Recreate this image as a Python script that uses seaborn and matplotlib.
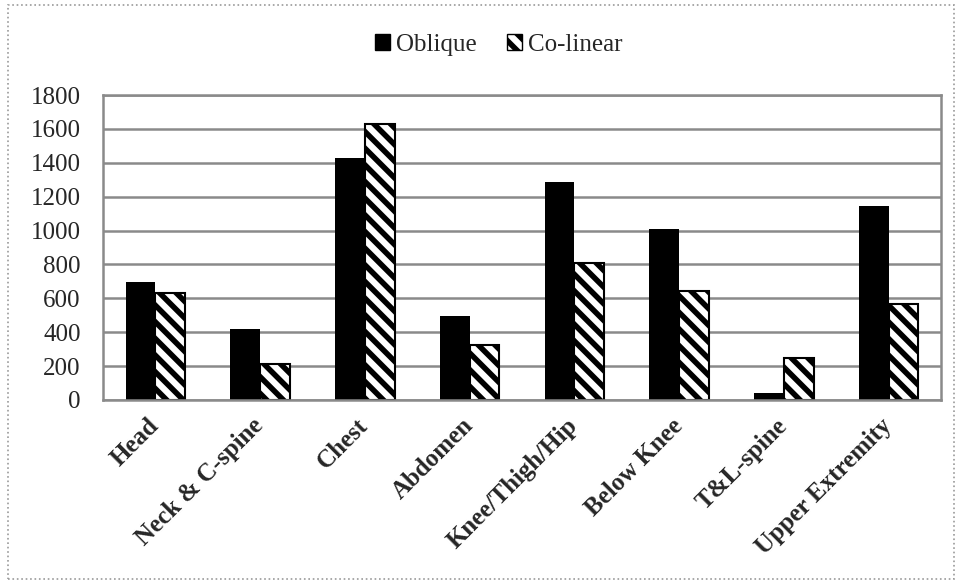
import matplotlib
matplotlib.use("Agg")
import matplotlib.pyplot as plt
import matplotlib.patches as mpatches
import seaborn as sns
import pandas as pd
import numpy as np

categories = ["Head", "Neck & C-spine", "Chest", "Abdomen", "Knee/Thigh/Hip",
              "Below Knee", "T&L-spine", "Upper Extremity"]
oblique = [698, 420, 1428, 495, 1285, 1010, 40, 1143]
colinear = [630, 215, 1630, 325, 810, 645, 245, 565]
series = ["Oblique", "Co-linear"]
yticks = [0, 200, 400, 600, 800, 1000, 1200, 1400, 1600, 1800]

df = pd.DataFrame({
    "Region": categories * 2,
    "Count": oblique + colinear,
    "Type": [series[0]] * len(categories) + [series[1]] * len(categories),
})

sns.set_theme(style="white")
plt.rcParams["font.family"] = ["Liberation Serif", "DejaVu Serif"]
plt.rcParams["hatch.linewidth"] = 4.0

fig = plt.figure(figsize=(9.59, 5.82), dpi=100)
ax = fig.add_axes([103 / 959, 1 - 400 / 582, (941 - 103) / 959, (400 - 95) / 582])

sns.barplot(data=df, x="Region", y="Count", hue="Type", palette=["black", "white"],
            width=0.57, saturation=1, ax=ax, legend=False, linewidth=0)

for bar in ax.containers[1]:
    bar.set_hatch("\\\\")
    bar.set_edgecolor("black")
    bar.set_linewidth(1.5)

grid_c = "#8a8a8a"
ax.set_ylim(0, 1800)
ax.set_xlim(-0.5, len(categories) - 0.5)
ax.set_yticks(yticks)
ax.set_yticklabels([str(v) for v in yticks], fontsize=18)
ax.yaxis.grid(True, color=grid_c, linewidth=1.8, zorder=0)
ax.set_axisbelow(True)
ax.set_xlabel("")
ax.set_ylabel("")

ax.set_xticks(range(len(categories)))
ax.set_xticklabels(categories, rotation=45, ha="right", va="center", rotation_mode="anchor",
                   fontsize=18, fontweight="bold")
ax.tick_params(axis="x", which="major", length=0, pad=16)
ax.set_xticks(np.arange(-0.5, len(categories), 1), minor=True)
ax.tick_params(axis="x", which="minor", length=6, width=1.5, color=grid_c, direction="out")
ax.tick_params(axis="y", which="major", length=6, width=1.5, color=grid_c, direction="out", pad=10)

for s in ["left", "bottom", "right", "top"]:
    ax.spines[s].set_visible(True)
    ax.spines[s].set_color(grid_c)
    ax.spines[s].set_linewidth(1.8)

handles = [
    mpatches.Patch(facecolor="black", edgecolor="black", label=series[0]),
    mpatches.Patch(facecolor="white", edgecolor="black", hatch="\\\\", label=series[1]),
]
fig.legend(handles=handles, loc="center", bbox_to_anchor=(499 / 959, 1 - 45 / 582), ncol=2,
           frameon=False, fontsize=18, handlelength=0.6, handleheight=0.6,
           handletextpad=0.25, columnspacing=1.2)

fig.patches.append(mpatches.Rectangle((8 / 959, 1 - 579 / 582), (954 - 8) / 959, (579 - 5) / 582,
                                      transform=fig.transFigure, fill=False,
                                      edgecolor="#9a9a9a", linewidth=1.2, linestyle=":"))

fig.savefig("out.png", dpi=100)
